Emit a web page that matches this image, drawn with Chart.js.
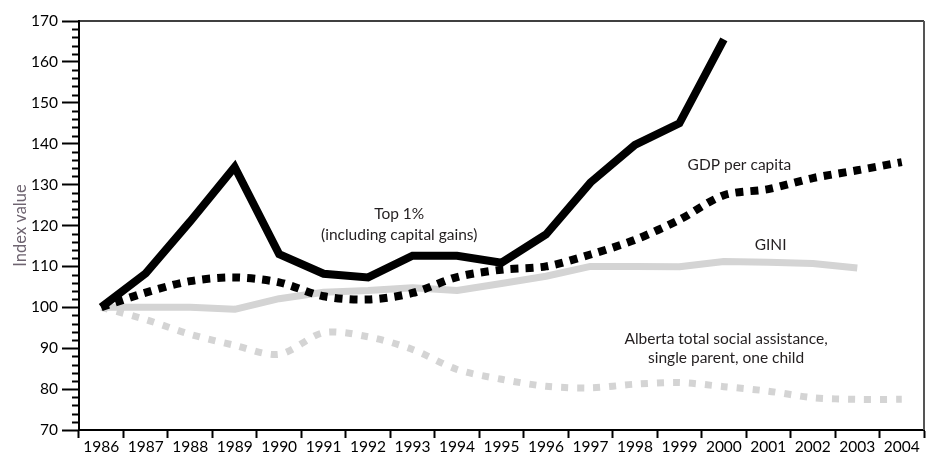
<!DOCTYPE html>
<html>
<head>
<meta charset="utf-8">
<script src="https://cdn.jsdelivr.net/npm/chart.js@4"></script>
<style>
    html, body { margin: 0; padding: 0; background: #fff; }
    #wrap { width: 932px; height: 454px; }
</style>
</head>
<body>
<div id="wrap"><canvas id="chart" width="932" height="454"></canvas></div>
<script>
const years = ['1986', '1987', '1988', '1989', '1990', '1991', '1992', '1993', '1994', '1995',
    '1996', '1997', '1998', '1999', '2000', '2001', '2002', '2003', '2004'];

const top1 = [100, 108.3, 121, 134.3, 113, 108.2, 107.3, 112.6, 112.6, 110.9,
    117.8, 130.5, 139.7, 145, 165.5, null, null, null, null];
const gdpPerCapita = [100, 103.6, 106.4, 107.3, 106.1, 102.7, 101.9, 103.5, 107.4, 109.2,
    110, 112.9, 116.5, 121.4, 127.4, 128.9, 131.6, 133.5, 135.5];
const gini = [100, 100, 100, 99.5, 102.1, 103.7, 104.1, 104.8, 104.1, 105.8,
    107.6, 110, 110, 109.9, 111.2, 111, 110.7, 109.6, null];
const socialAssistance = [100, 97, 93.4, 90.7, 88.5, 93.8, 92.8, 89.7, 84.8, 82.4,
    80.7, 80.3, 81.2, 81.6, 80.6, 79.5, 77.9, 77.5, 77.5];

// label text, anchored at a (fractional) category index and an index value
const notes = [
    { lines: ['Top 1%', '(including capital gains)'], x: 6.7, y: 122.9, gap: 21 },
    { lines: ['GDP per capita'], x: 14.35, y: 134.7, gap: 0 },
    { lines: ['GINI'], x: 15.05, y: 115.3, gap: 0 },
    { lines: ['Alberta total social assistance,', 'single parent, one child'], x: 14.05, y: 92.2, gap: 19 }
];

const FONT = 'Lato, "Open Sans", sans-serif';

const framePlugin = {
    id: 'frame',
    afterDraw(chart) {
        const ctx = chart.ctx;
        const area = chart.chartArea;
        const y = chart.scales.y;
        const x = chart.scales.x;

        ctx.save();
        // top and right edges
        ctx.strokeStyle = '#000';
        ctx.lineWidth = 1.5;
        ctx.beginPath();
        ctx.moveTo(area.left, area.top);
        ctx.lineTo(area.right, area.top);
        ctx.stroke();
        ctx.strokeStyle = '#555';
        ctx.lineWidth = 2;
        ctx.beginPath();
        ctx.moveTo(area.right, area.top);
        ctx.lineTo(area.right, area.bottom);
        ctx.stroke();

        // minor ticks on the value axis
        ctx.strokeStyle = '#000';
        ctx.lineWidth = 2;
        for (let v = 72; v < 170; v += 2) {
            if (v % 10 === 0) continue;
            const py = Math.round(y.getPixelForValue(v)) + 0.5;
            ctx.beginPath();
            ctx.moveTo(area.left - 7, py);
            ctx.lineTo(area.left, py);
            ctx.stroke();
        }

        // annotations
        ctx.fillStyle = '#231f20';
        ctx.font = '15.5px ' + FONT;
        ctx.textAlign = 'center';
        ctx.textBaseline = 'middle';
        notes.forEach(n => {
            const px = x.getPixelForValue(n.x);
            const py = y.getPixelForValue(n.y);
            n.lines.forEach((line, i) => {
                ctx.fillText(line, px, py + i * n.gap);
            });
        });
        ctx.restore();
    }
};

new Chart(document.getElementById('chart').getContext('2d'), {
    type: 'line',
    data: {
        labels: years,
        datasets: [{
            label: 'Top 1% (including capital gains)',
            data: top1,
            borderColor: '#000',
            borderWidth: 8,
            borderJoinStyle: 'miter',
            borderCapStyle: 'butt',
            tension: 0
        }, {
            label: 'GDP per capita',
            data: gdpPerCapita,
            borderColor: '#000',
            borderWidth: 8,
            borderDash: [8, 7],
            borderCapStyle: 'butt',
            tension: 0.3
        }, {
            label: 'GINI',
            data: gini,
            borderColor: '#d4d4d4',
            borderWidth: 7,
            borderJoinStyle: 'round',
            tension: 0
        }, {
            label: 'Alberta total social assistance, single parent, one child',
            data: socialAssistance,
            borderColor: '#d4d4d4',
            borderWidth: 7,
            borderDash: [7, 9],
            borderCapStyle: 'butt',
            tension: 0.3
        }]
    },
    options: {
        responsive: false,
        animation: false,
        events: [],
        elements: { point: { radius: 0 } },
        layout: { padding: { top: 21, right: 8, left: 0, bottom: 0 } },
        plugins: {
            legend: { display: false },
            tooltip: { enabled: false }
        },
        scales: {
            x: {
                offset: true,
                grid: {
                    offset: true,
                    drawOnChartArea: false,
                    tickLength: 8,
                    tickColor: '#000',
                    tickWidth: 2
                },
                border: { color: '#000', width: 2 },
                ticks: {
                    color: '#000',
                    padding: 0,
                    maxRotation: 0,
                    autoSkip: false,
                    font: { family: FONT, size: 15.5 }
                },
                afterFit: scale => { scale.height = 24; }
            },
            y: {
                min: 70,
                max: 170,
                ticks: {
                    stepSize: 2,
                    autoSkip: false,
                    color: '#000',
                    padding: 4,
                    font: { family: FONT, size: 15.5 },
                    callback: v => (v % 10 === 0 ? v : '')
                },
                grid: {
                    drawOnChartArea: false,
                    tickLength: 17,
                    tickWidth: 2,
                    tickColor: c => (c.tick && c.tick.value % 10 === 0 ? '#000' : 'rgba(0,0,0,0)')
                },
                border: { color: '#000', width: 2 },
                title: {
                    display: true,
                    text: 'Index value',
                    color: '#6e6470',
                    font: { family: FONT, size: 16.5 },
                    padding: { top: 11, bottom: 0 }
                },
                afterFit: scale => { scale.width = 79; }
            }
        }
    },
    plugins: [framePlugin]
});
</script>
</body>
</html>
